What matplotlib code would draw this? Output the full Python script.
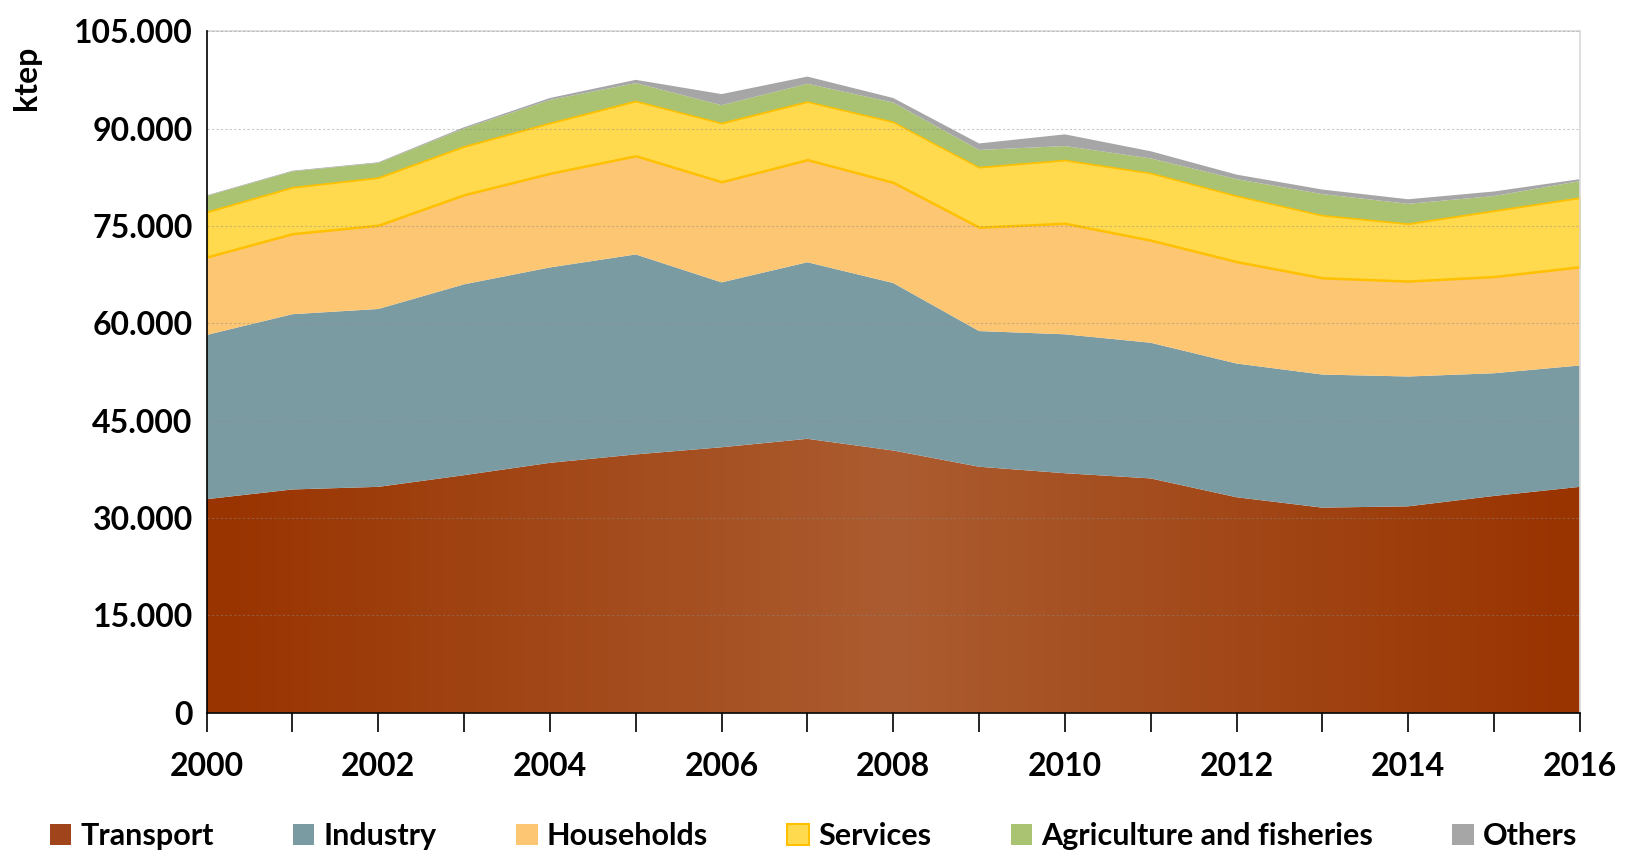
import numpy as np
import matplotlib
matplotlib.use("Agg")
import matplotlib.pyplot as plt
from matplotlib.ticker import FuncFormatter, MultipleLocator
from matplotlib.patches import Patch

plt.rcParams['font.family'] = ['Lato', 'DejaVu Sans']
plt.rcParams['font.weight'] = 'bold'

years = np.arange(2000, 2017)

# consumption by sector, ktep
transport = [32900, 34400, 34800, 36600, 38500, 39800, 40900, 42200, 40400,
             37900, 36900, 36100, 33200, 31600, 31800, 33400, 34800]
industry = [25300, 27000, 27400, 29400, 30100, 30800, 25400, 27200, 25800,
            20900, 21400, 20900, 20600, 20500, 20000, 18900, 18700]
households = [12000, 12400, 12900, 13800, 14500, 15200, 15500, 15800, 15500,
              16000, 17100, 15800, 15700, 14900, 14700, 14900, 15200]
services = [7000, 7200, 7400, 7500, 7800, 8500, 9100, 9000, 9400,
            9300, 9800, 10400, 10200, 9700, 8900, 10200, 10700]
agriculture = [2400, 2400, 2200, 2700, 3500, 2700, 2700, 2700, 2900,
               2600, 2100, 2200, 2500, 3200, 3000, 2200, 2500]
others = [100, 100, 100, 200, 300, 500, 1700, 1100, 700,
          1000, 1800, 1100, 700, 700, 700, 700, 300]

labels = ['Transport', 'Industry', 'Households', 'Services',
          'Agriculture and fisheries', 'Others']
colors = ['#A0441B', '#7B9BA3', '#FCC672', '#FFDA4F', '#A9C372', '#A6A6A6']

series = [transport, industry, households, services, agriculture, others]

fig = plt.figure(figsize=(16.27, 8.65), dpi=100)
ax = fig.add_axes([0.127, 0.176, 0.844, 0.788])

stack = np.cumsum(np.array(series, dtype=float), axis=0)
base = np.zeros(len(years))

for i, (lab, col) in enumerate(zip(labels, colors)):
    top = stack[i]
    if i == 0:
        # transport with horizontal gradient dark -> light -> dark
        poly = ax.fill_between(years, base, top, facecolor='none', lw=0)
        t = np.linspace(0, 1, 400)
        w = 1 - np.abs(2 * t - 1)
        c0 = np.array([0x99, 0x33, 0x00]) / 255
        c1 = np.array([0xAB, 0x5C, 0x30]) / 255
        grad = c0[None, :] + w[:, None] * (c1 - c0)[None, :]
        img = ax.imshow(grad[None, :, :], extent=[years[0], years[-1], 0, top.max()],
                        aspect='auto', origin='lower', zorder=1)
        clip = poly.get_paths()[0]
        img.set_clip_path(clip, transform=ax.transData)
    elif lab == 'Services':
        ax.fill_between(years, base, top, facecolor=col, edgecolor='#FFC000',
                        lw=1.8, zorder=2)
    else:
        ax.fill_between(years, base, top, facecolor=col, lw=0, zorder=2)
    base = top

ax.set_xlim(2000, 2016)
ax.set_ylim(0, 105000)
ax.yaxis.set_major_locator(MultipleLocator(15000))
ax.yaxis.set_major_formatter(FuncFormatter(lambda v, p: f"{int(v):,}".replace(',', '.')))
ax.set_xticks(years)
ax.set_xticklabels([str(y) if y % 2 == 0 else '' for y in years])
ax.grid(axis='y', color='#8a8a8a', lw=0.8, ls=(0, (2, 2)), alpha=0.45, zorder=3)
ax.set_axisbelow(False)

for s in ['top', 'right']:
    ax.spines[s].set_color('#d9d9d9')
    ax.spines[s].set_linewidth(1.2)
for s in ['left', 'bottom']:
    ax.spines[s].set_color('black')
    ax.spines[s].set_linewidth(1.2)
    ax.spines[s].set_zorder(5)

ax.tick_params(axis='x', direction='out', length=14, width=1.2, pad=14,
               labelsize=23)
ax.tick_params(axis='y', length=0, pad=10, labelsize=23)
for lbl in ax.get_xticklabels() + ax.get_yticklabels():
    lbl.set_fontweight('bold')

fig.text(0.016, 0.91, 'ktep', rotation=90, fontsize=23, fontweight='bold',
         ha='center', va='center')

handles = [Patch(facecolor=c, edgecolor=('#FFC000' if l == 'Services' else 'none'),
                 lw=1.5) for l, c in zip(labels, colors)]
fig.legend(handles, labels, loc='center', bbox_to_anchor=(0.5, 0.033), ncol=6,
           frameon=False, handlelength=0.7, handleheight=0.7,
           handletextpad=0.3, columnspacing=2.6, prop={'weight': 'bold', 'size': 22})

fig.savefig('out.png', dpi=100)
